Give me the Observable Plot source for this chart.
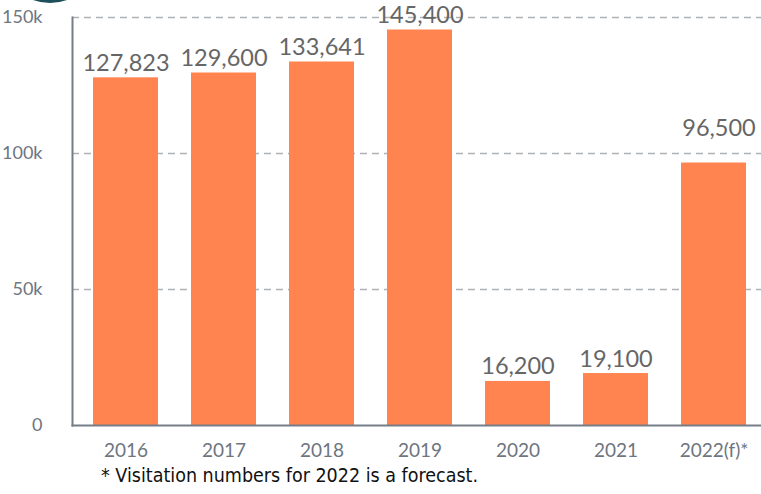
<!DOCTYPE html>
<html>
<head>
<meta charset="utf-8">
<script src="https://cdn.jsdelivr.net/npm/d3@7"></script>
<script src="https://cdn.jsdelivr.net/npm/@observablehq/plot@0.6"></script>
<style>
  html, body { margin: 0; padding: 0; background: #fff; overflow: hidden; }
  #wrap { position: relative; width: 761px; height: 494px; overflow: hidden; }
  #blob { position: absolute; left: 0px; top: -97px; width: 100px; height: 100px; border-radius: 50%; background: #1d4f5b; }
  #note { position: absolute; left: 101px; top: 464px; font-family: "DejaVu Sans Condensed", "Liberation Sans Narrow", sans-serif; font-stretch: condensed; font-size: 19.5px; color: #111; white-space: nowrap; }
</style>
</head>
<body>
<div id="wrap">
  <div id="chart"></div>
  <div id="blob"></div>
  <div id="note">* Visitation numbers for 2022 is a forecast.</div>
</div>
<script>
const years = ["2016", "2017", "2018", "2019", "2020", "2021", "2022(f)*"];
const visitors = [127823, 129600, 133641, 145400, 16200, 19100, 96500];
const yTicks = [0, 50000, 100000, 150000];
const yTickLabels = ["0", "50k", "100k", "150k"];

const data = years.map((y, i) => ({year: y, value: visitors[i]}));
const fmt = d3.format(",");
const lastYear = years[years.length - 1];

const chart = Plot.plot({
  width: 761,
  height: 460,
  marginTop: 17,
  marginBottom: 35,
  marginLeft: 72,
  marginRight: 0,
  style: {fontFamily: "Lato, sans-serif", background: "#fff", overflow: "visible"},
  x: {domain: years, range: [73, 765], paddingInner: 0.34, paddingOuter: 0.17, label: null},
  y: {domain: [0, 150000], label: null},
  marks: [
    Plot.gridY(yTicks.slice(1), {stroke: "#aeb2b7", strokeOpacity: 1, strokeWidth: 1.5, strokeDasharray: "7,5"}),
    Plot.barY(data, {x: "year", y: "value", fill: "#ff8450"}),
    Plot.text(data.filter(d => d.year !== lastYear), {x: "year", y: "value", text: d => fmt(d.value), lineAnchor: "bottom", dy: -7, fontSize: 23.5, fill: "#666"}),
    Plot.text(data.filter(d => d.year === lastYear), {x: "year", y: "value", text: d => fmt(d.value), lineAnchor: "bottom", dy: -27, dx: 5, fontSize: 23.5, fill: "#666"}),
    Plot.frame({anchor: "left", stroke: "#767d86", strokeWidth: 2}),
    Plot.frame({anchor: "bottom", stroke: "#767d86", strokeWidth: 2}),
    Plot.axisY({ticks: yTicks, tickFormat: d => yTickLabels[yTicks.indexOf(d)], tickSize: 0, tickPadding: 30, fontSize: 18, fill: "#6e7580", label: null}),
    Plot.axisX({tickSize: 0, tickPadding: 18, fontSize: 19, fill: "#6e7580", label: null})
  ]
});
document.getElementById("chart").appendChild(chart);
</script>
</body>
</html>
